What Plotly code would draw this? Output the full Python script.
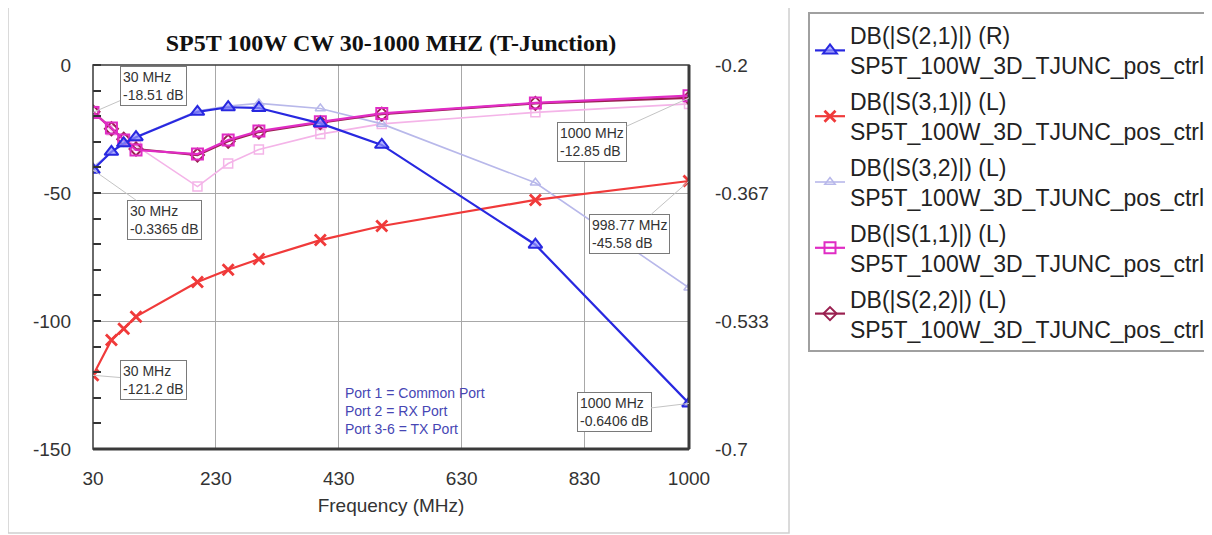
import plotly.graph_objects as go

# ---------------- data ----------------
freq_mhz = [30, 60, 80, 100, 200, 250, 300, 400, 500, 750, 1000]

s21_db = [-0.3365, -0.313, -0.302, -0.294, -0.261, -0.255, -0.256, -0.276, -0.304, -0.434, -0.6406]   # right axis
s31_db = [-121.2, -107.4, -103.0, -98.3, -84.8, -80.0, -75.8, -68.4, -62.9, -52.7, -45.3]
s32_db = [-40.0, -34.0, -31.0, -28.0, -18.0, -16.0, -15.0, -17.0, -23.0, -46.0, -87.0]
s11_db = [-18.51, -24.6, -29.3, -33.2, -34.8, -29.3, -25.8, -22.2, -18.9, -14.8, -12.0]
s22_db = [-18.3, -24.9, -29.0, -32.8, -35.2, -29.8, -26.2, -22.5, -19.2, -15.0, -12.85]
s11_alt_db = [-18.0, -25.5, -29.0, -31.5, -47.5, -38.5, -33.0, -27.0, -23.0, -18.5, -15.2]

x_ticks = [30, 230, 430, 630, 830, 1000]
y_ticks = [0, -50, -100, -150]
y_ticktext = ["0", "-50", "-100", "-150"]
y2_ticks = [-0.2, -0.2 - 0.5 / 3, -0.2 - 1.0 / 3, -0.7]
y2_ticktext = ["-0.2", "-0.367", "-0.533", "-0.7"]

legend_sub = "SP5T_100W_3D_TJUNC_pos_ctrl"
names = ["DB(|S(2,1)|) (R)", "DB(|S(3,1)|) (L)", "DB(|S(3,2)|) (L)",
         "DB(|S(1,1)|) (L)", "DB(|S(2,2)|) (L)"]

markers = [
    ("30 MHz<br>-18.51 dB", 30, -18.51, "y", 60, -26),
    ("30 MHz<br>-0.3365 dB", 30, -0.3365, "y2", 71, 50),
    ("30 MHz<br>-121.2 dB", 30, -121.2, "y", 60, 5),
    ("1000 MHz<br>-12.85 dB", 1000, -12.85, "y", -97, 44),
    ("998.77 MHz<br>-45.58 dB", 998.77, -45.58, "y", -59, 52),
    ("1000 MHz<br>-0.6406 dB", 1000, -0.6406, "y2", -75, 9),
]

port_note = "Port 1 = Common Port<br>Port 2 = RX Port<br>Port 3-6 = TX Port"

# ---------------- figure ----------------
fig = go.Figure()

# faded extra trace (not in legend)
fig.add_trace(go.Scatter(
    x=freq_mhz, y=s11_alt_db, mode="lines+markers", showlegend=False,
    line=dict(color="#f4b4e8", width=1.6),
    marker=dict(symbol="square-open", size=9, color="#f4b4e8", line=dict(width=1.5)),
    hoverinfo="skip"))

fig.add_trace(go.Scatter(
    x=freq_mhz, y=s32_db, mode="lines+markers", legendgroup="g3",
    name=names[2] + "<br>" + legend_sub,
    line=dict(color="#b8b8ea", width=1.6),
    marker=dict(symbol="triangle-up-open", size=9, color="#b8b8ea", line=dict(width=1.5))))

fig.add_trace(go.Scatter(
    x=freq_mhz, y=s31_db, mode="lines+markers", legendgroup="g2",
    name=names[1] + "<br>" + legend_sub,
    line=dict(color="#f03a3a", width=2.2),
    marker=dict(symbol="x-thin-open", size=11, color="#f03a3a", line=dict(width=2.8))))

fig.add_trace(go.Scatter(
    x=freq_mhz, y=s22_db, mode="lines+markers", legendgroup="g5",
    name=names[4] + "<br>" + legend_sub,
    line=dict(color="#9a2050", width=2.2),
    marker=dict(symbol="diamond-open", size=10, color="#9a2050", line=dict(width=2))))

fig.add_trace(go.Scatter(
    x=freq_mhz, y=s11_db, mode="lines+markers", legendgroup="g4",
    name=names[3] + "<br>" + legend_sub,
    line=dict(color="#e02cc4", width=2.2),
    marker=dict(symbol="square-open", size=11, color="#e02cc4", line=dict(width=2))))

fig.add_trace(go.Scatter(
    x=freq_mhz, y=s21_db, mode="lines+markers", yaxis="y2", legendgroup="g1",
    name=names[0] + "<br>" + legend_sub,
    line=dict(color="#2828e0", width=2.2),
    marker=dict(symbol="triangle-up", size=12, color="rgba(150,150,255,0.7)",
                line=dict(width=2, color="#2828e0"))))

order = {names[0]: 1, names[1]: 2, names[2]: 3, names[3]: 4, names[4]: 5}
for tr in fig.data:
    if tr.name:
        tr.legendrank = order[tr.name.split("<br>")[0]]

annos = []
for txt, fx, fy, yr, ax, ay in markers:
    annos.append(dict(x=fx, y=fy, xref="x", yref=yr, text=txt, showarrow=True,
                      ax=ax, ay=ay, arrowhead=0, arrowwidth=1, arrowcolor="#c4c4c4",
                      align="left", font=dict(family="Liberation Sans", size=14, color="#333"),
                      bgcolor="white", bordercolor="#7a7a7a", borderwidth=1, borderpad=2))
annos.append(dict(x=0.4195, y=0.099, xref="paper", yref="paper", xanchor="left", yanchor="middle",
                  text=port_note, showarrow=False, align="left",
                  font=dict(family="Liberation Sans", size=14, color="#4646b4")))

shapes = [
    dict(type="rect", xref="paper", yref="paper", x0=-0.1426, x1=1.1678, y0=-0.21875, y1=1.151,
         line=dict(color="#cfcfcf", width=1.5), layer="below"),
    dict(type="rect", xref="paper", yref="paper", x0=0, x1=1, y0=0, y1=1,
         line=dict(color="#3a3a3a", width=1.5)),
    dict(type="line", xref="paper", yref="paper", x0=0, x1=1, y0=0, y1=0,
         line=dict(color="#3a3a3a", width=3)),
    dict(type="line", xref="paper", yref="paper", x0=1, x1=1, y0=0, y1=1,
         line=dict(color="#3a3a3a", width=3)),
]

tickfont = dict(family="Liberation Sans", size=19, color="#333")

W, H = 1204, 527   # page body has an 8px margin
fig.update_layout(
    width=W, height=H,
    margin=dict(l=85, r=W - 85 - 596, t=57, b=H - 57 - 384),
    paper_bgcolor="white", plot_bgcolor="white",
    title=dict(text="<b>SP5T 100W CW 30-1000 MHZ (T-Junction)</b>",
               x=0.5, xref="paper", xanchor="center",
               y=1 - 35 / H, yref="container", yanchor="middle",
               font=dict(family="Liberation Serif", size=24, color="#111")),
    xaxis=dict(range=[30, 1000], tickvals=x_ticks, showgrid=True, gridcolor="#a8a8a8",
               gridwidth=1, zeroline=False, ticks="", tickfont=tickfont,
               ticklabelstandoff=16,
               title=dict(text="Frequency (MHz)", standoff=10,
                          font=dict(family="Liberation Sans", size=19, color="#333"))),
    yaxis=dict(range=[-150, 0], tickvals=y_ticks, ticktext=y_ticktext, showgrid=True,
               gridcolor="#a8a8a8", zeroline=False, ticks="", tickfont=tickfont,
               ticklabelstandoff=21,
               minor=dict(dtick=10, ticks="inside", ticklen=8, tickcolor="#333",
                          tickwidth=1.5, showgrid=False)),
    yaxis2=dict(range=[-0.7, -0.2], overlaying="y", side="right", tickvals=y2_ticks,
                ticktext=y2_ticktext, showgrid=False, zeroline=False, ticks="",
                tickfont=tickfont, ticklabelstandoff=25),
    legend=dict(xref="container", yref="container",
                x=800 / W, xanchor="left", y=1 - 4 / H, yanchor="top",
                bgcolor="white", bordercolor="#a0a0a0", borderwidth=2,
                font=dict(family="Liberation Sans", size=23, color="#222"),
                itemwidth=30, tracegroupgap=3, maxheight=600),
    annotations=annos,
    shapes=shapes,
    showlegend=True,
)

fig.write_html("out.html")
